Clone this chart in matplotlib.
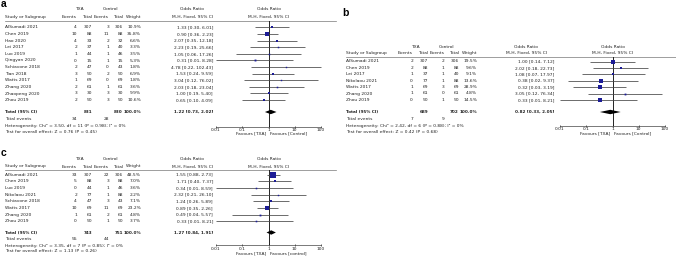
"""Three-panel forest plot (TXA vs control), RevMan style."""

import matplotlib.pyplot as plt
import numpy as np

# ---- panel a ----
a_study = ["AlSumadi 2021", "Chen 2019", "Hao 2020", "Lei 2017", "Luo 2019",
           "Qingyan 2020", "Schiavone 2018", "Tian 2018", "Watts 2017",
           "Zhang 2020", "Zhaopeng 2020", "Zhou 2019"]
a_ev_txa = [4, 10, 4, 2, 1, 0, 2, 3, 1, 2, 3, 2]
a_tot_txa = [307, 88, 33, 37, 44, 15, 47, 50, 69, 61, 30, 50]
a_ev_ctl = [3, 11, 2, 1, 1, 1, 0, 2, 0, 1, 3, 3]
a_tot_ctl = [306, 88, 32, 40, 46, 15, 43, 50, 69, 61, 30, 50]
a_weight = [10.9, 35.8, 6.6, 3.3, 3.5, 5.3, 1.8, 6.9, 1.8, 3.6, 9.9, 10.6]
a_or = [1.33, 0.90, 2.07, 2.23, 1.05, 0.31, 4.78, 1.53, 3.04, 2.03, 1.00, 0.65]
a_lo = [0.30, 0.36, 0.35, 0.19, 0.06, 0.01, 0.22, 0.24, 0.12, 0.18, 0.19, 0.10]
a_hi = [6.01, 2.23, 12.18, 25.66, 17.26, 8.28, 102.43, 9.59, 76.02, 23.04, 5.40, 4.09]
a_total = (831, 830, 1.22, 0.73, 2.02)
a_events = (34, 28)
a_het = "Heterogeneity: Chi² = 3.50, df = 11 (P = 0.98); I² = 0%"
a_test = "Test for overall effect: Z = 0.76 (P = 0.45)"

# ---- panel b ----
b_study = ["AlSumadi 2021", "Chen 2019", "Lei 2017", "Nikolaou 2021",
           "Watts 2017", "Zhang 2020", "Zhou 2019"]
b_ev_txa = [2, 2, 1, 0, 1, 1, 0]
b_tot_txa = [307, 88, 37, 77, 69, 61, 50]
b_ev_ctl = [2, 1, 1, 1, 3, 0, 1]
b_tot_ctl = [306, 88, 40, 88, 69, 61, 50]
b_weight = [19.5, 9.6, 9.1, 13.6, 28.9, 4.8, 14.5]
b_or = [1.00, 2.02, 1.08, 0.38, 0.32, 3.05, 0.33]
b_lo = [0.14, 0.18, 0.07, 0.02, 0.03, 0.12, 0.01]
b_hi = [7.12, 22.73, 17.97, 9.37, 3.19, 76.34, 8.21]
b_total = (689, 702, 0.82, 0.33, 2.05)
b_events = (7, 9)
b_het = "Heterogeneity: Chi² = 2.42, df = 6 (P = 0.88); I² = 0%"
b_test = "Test for overall effect: Z = 0.42 (P = 0.68)"

# ---- panel c ----
c_study = ["AlSumadi 2021", "Chen 2019", "Luo 2019", "Nikolaou 2021",
           "Schiavone 2018", "Watts 2017", "Zhang 2020", "Zhou 2019"]
c_ev_txa = [33, 5, 0, 2, 4, 10, 1, 0]
c_tot_txa = [307, 88, 44, 77, 47, 69, 61, 50]
c_ev_ctl = [22, 3, 1, 1, 3, 11, 2, 1]
c_tot_ctl = [306, 88, 46, 88, 43, 69, 61, 50]
c_weight = [48.5, 7.0, 3.6, 2.2, 7.1, 23.2, 4.8, 3.7]
c_or = [1.55, 1.71, 0.34, 2.32, 1.24, 0.89, 0.49, 0.33]
c_lo = [0.88, 0.40, 0.01, 0.21, 0.26, 0.35, 0.04, 0.01]
c_hi = [2.73, 7.37, 8.59, 26.10, 5.89, 2.26, 5.57, 8.21]
c_total = (743, 751, 1.27, 0.84, 1.91)
c_events = (55, 44)
c_het = "Heterogeneity: Chi² = 3.35, df = 7 (P = 0.85); I² = 0%"
c_test = "Test for overall effect: Z = 1.13 (P = 0.26)"

ticks = [0.01, 0.1, 1, 10, 100]
tick_labels = ["0.01", "0.1", "1", "10", "100"]

W, H = 676, 259
FS = 3.2
FS_BOLD = 3.0
TXT = "#222222"
BOX = "#1c1c96"
plt.rcParams["font.family"] = ["DejaVu Sans"]

fig = plt.figure(figsize=(W / 100, H / 100), dpi=100)
bg = fig.add_axes([0, 0, 1, 1])
bg.set_xlim(0, W)
bg.set_ylim(H, 0)
bg.axis("off")


def txt(x, y, s, ha="left", bold=False):
    bg.text(x, y, s, ha=ha, va="center", color=TXT,
            fontsize=FS_BOLD if bold else FS,
            fontweight="bold" if bold else "normal")


def draw_panel(letter, study, ev_t, tot_t, ev_c, tot_c, weight, orr, lo, hi,
               total, events, het, test, fav_ctl, lay):
    cx = lay["cols"]  # right edges: ev_t, tot_t, ev_c, tot_c, weight, or
    x0, x1 = lay["axis_x"]
    one = (x0 + x1) / 2
    bg.text(lay["letter"][0], lay["letter"][1], letter, fontsize=7.5,
            fontweight="bold", family="Liberation Sans", va="center")

    # headers
    y1, y2 = lay["head"]
    txt((cx[0] + cx[1]) / 2 - 5, y1, "TXA", ha="center")
    txt((cx[2] + cx[3]) / 2 - 5, y1, "Control", ha="center")
    txt(lay["or_head"], y1, "Odds Ratio", ha="center")
    txt(lay["or_head"], y2, "M-H, Fixed, 95% CI", ha="center")
    txt(one, y1, "Odds Ratio", ha="center")
    txt(one, y2, "M-H, Fixed, 95% CI", ha="center")
    txt(lay["x_study"], y2, "Study or Subgroup")
    for x, s in zip(cx[:5], ["Events", "Total", "Events", "Total", "Weight"]):
        txt(x, y2, s, ha="right")
    bg.plot([lay["x_study"], lay["line_end"]], [lay["line"], lay["line"]],
            color="#777777", lw=0.5)

    # study rows
    ys = lay["row0"] + lay["dy"] * np.arange(len(study))
    for i, y in enumerate(ys):
        txt(lay["x_study"], y, study[i])
        txt(cx[0], y, str(ev_t[i]), ha="right")
        txt(cx[1], y, str(tot_t[i]), ha="right")
        txt(cx[2], y, str(ev_c[i]), ha="right")
        txt(cx[3], y, str(tot_c[i]), ha="right")
        txt(cx[4], y, f"{weight[i]:.1f}%", ha="right")
        txt(cx[5], y, f"{orr[i]:.2f} [{lo[i]:.2f}, {hi[i]:.2f}]", ha="right")

    yt, ye, yh, yz = lay["foot"]
    n_t, n_c, est, tlo, thi = total
    txt(lay["x_study"], yt, "Total (95% CI)", bold=True)
    txt(cx[1], yt, str(n_t), ha="right", bold=True)
    txt(cx[3], yt, str(n_c), ha="right", bold=True)
    txt(cx[4], yt, "100.0%", ha="right", bold=True)
    txt(cx[5], yt, f"{est:.2f} [{tlo:.2f}, {thi:.2f}]", ha="right", bold=True)
    txt(lay["x_study"], ye, "Total events")
    txt(cx[0], ye, str(events[0]), ha="right")
    txt(cx[2], ye, str(events[1]), ha="right")
    txt(lay["x_study"], yh, het)
    txt(lay["x_study"], yz, test)

    # forest plot on a log axis; y in pixel units so it lines up with the table
    ya = lay["axis_y"]
    ax = fig.add_axes([x0 / W, 1 - ya / H, (x1 - x0) / W, (ya - lay["line"]) / H])
    ax.set_xscale("log")
    ax.set_xlim(0.01, 100)
    ax.set_ylim(ya, lay["line"])
    ax.patch.set_alpha(0)
    for side in ["top", "left", "right"]:
        ax.spines[side].set_visible(False)
    ax.spines["bottom"].set_linewidth(0.5)
    ax.spines["bottom"].set_color("#444444")
    ax.set_yticks([])
    ax.set_xticks(ticks)
    ax.set_xticklabels(tick_labels)
    ax.xaxis.set_minor_locator(plt.NullLocator())
    ax.tick_params(axis="x", labelsize=FS, length=1.6, width=0.5, pad=0.3,
                   direction="inout", colors=TXT)
    ax.axvline(1, color="black", lw=0.6)

    for i, y in enumerate(ys):
        ax.plot([lo[i], hi[i]], [y, y], color="#444444", lw=0.55,
                solid_capstyle="butt", clip_on=False)
        side_px = max(1.4, 0.82 * np.sqrt(weight[i]))
        ax.plot(orr[i], y, marker="s", ms=side_px * 0.72, color=BOX,
                mec=BOX, mew=0, clip_on=False, zorder=3)
    h = 2.2
    ax.fill([tlo, est, thi, est], [yt, yt - h, yt, yt + h], color="black",
            lw=0, clip_on=False, zorder=3)

    txt(one - 2, lay["fav"], "Favours [TXA]", ha="right")
    txt(one + 2, lay["fav"], fav_ctl)


lay_a = dict(letter=(1, 4), head=(9, 17), line=21, line_end=336, x_study=5,
             cols=[77, 92, 109, 123, 141, 213], or_head=192,
             axis_x=(216, 321), row0=27.5, dy=6.6, foot=(112, 118.5, 125.5, 132),
             axis_y=126.5, fav=133.5)
lay_b = dict(letter=(342, 12.5), head=(47, 53), line=57, line_end=676,
             x_study=346, cols=[413, 428, 444, 459, 477, 554], or_head=526,
             axis_x=(560, 665), row0=61.5, dy=6.4, foot=(112, 118.5, 125.5, 132),
             axis_y=125.5, fav=133.5)
lay_c = dict(letter=(1, 153), head=(159.5, 166.5), line=170, line_end=336,
             x_study=5, cols=[77, 92, 109, 123, 141, 213], or_head=192,
             axis_x=(216, 321), row0=174.5, dy=6.7,
             foot=(232.5, 238.5, 245.5, 251.5), axis_y=245, fav=253.5)

draw_panel("a", a_study, a_ev_txa, a_tot_txa, a_ev_ctl, a_tot_ctl, a_weight,
           a_or, a_lo, a_hi, a_total, a_events, a_het, a_test,
           "Favours [Control]", lay_a)
draw_panel("b", b_study, b_ev_txa, b_tot_txa, b_ev_ctl, b_tot_ctl, b_weight,
           b_or, b_lo, b_hi, b_total, b_events, b_het, b_test,
           "Favours [Control]", lay_b)
draw_panel("c", c_study, c_ev_txa, c_tot_txa, c_ev_ctl, c_tot_ctl, c_weight,
           c_or, c_lo, c_hi, c_total, c_events, c_het, c_test,
           "Favours [control]", lay_c)

fig.savefig("out.png", dpi=100)
